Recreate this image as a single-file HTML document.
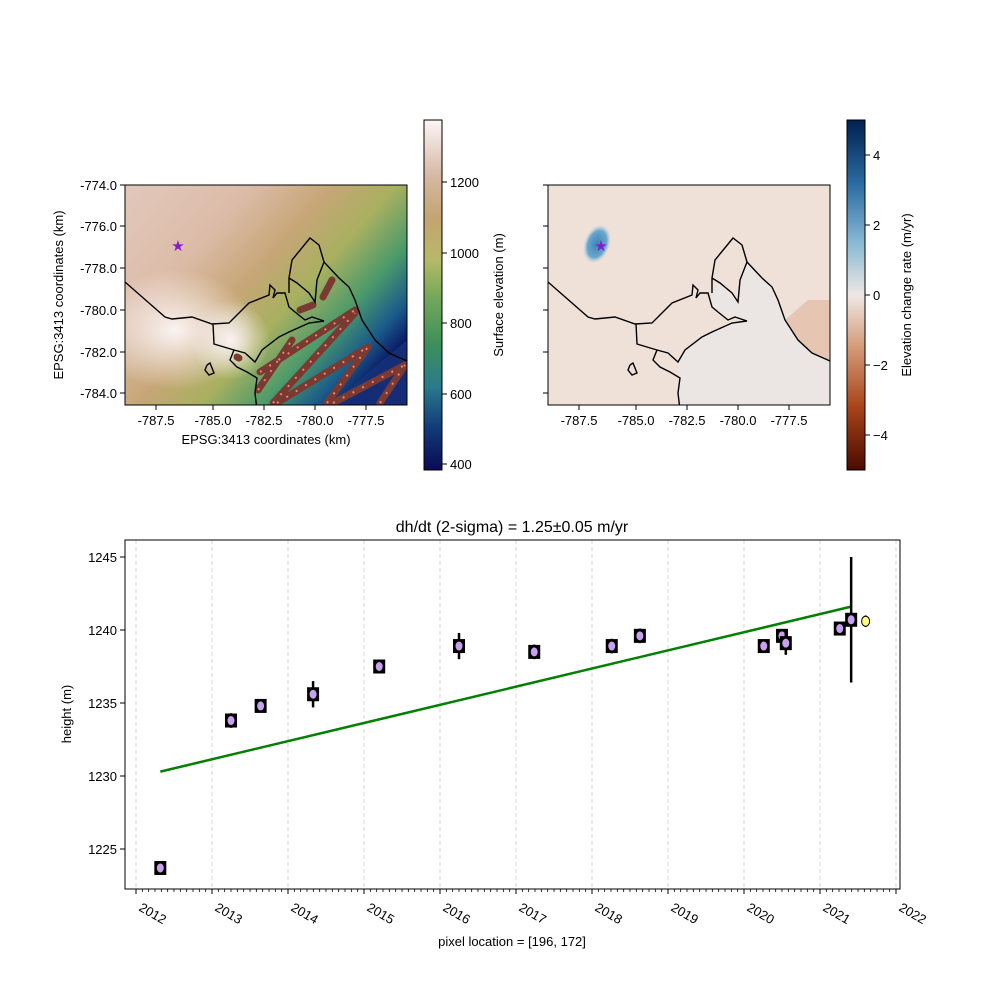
<!DOCTYPE html>
<html><head><meta charset="utf-8"><style>
body{margin:0;background:#fff}
svg text{font-family:"Liberation Sans","DejaVu Sans",sans-serif;font-size:13px;fill:#000}
</style></head><body>
<svg id="fig" width="1000" height="1000" viewBox="0 0 1000 1000">
<defs>
<linearGradient id="cb1" x1="0" y1="1" x2="0" y2="0">
<stop offset="0" stop-color="#0a0a55"/><stop offset="0.12" stop-color="#123a7a"/><stop offset="0.24" stop-color="#2a7b8c"/><stop offset="0.36" stop-color="#3e8f5a"/><stop offset="0.5" stop-color="#78a95a"/><stop offset="0.6" stop-color="#b8b86a"/><stop offset="0.72" stop-color="#c4a470"/><stop offset="0.84" stop-color="#d6b8a4"/><stop offset="1" stop-color="#fbf6f6"/></linearGradient>
<linearGradient id="cb2" x1="0" y1="1" x2="0" y2="0">
<stop offset="0" stop-color="#4a0a00"/><stop offset="0.18" stop-color="#a8441a"/><stop offset="0.35" stop-color="#d49a78"/><stop offset="0.5" stop-color="#efe8e4"/><stop offset="0.65" stop-color="#88b8d4"/><stop offset="0.82" stop-color="#2a6aa0"/><stop offset="1" stop-color="#002050"/></linearGradient>
<linearGradient id="map1" x1="0" y1="0" x2="1" y2="0.7">
<stop offset="0" stop-color="#e2c8bc"/><stop offset="0.3" stop-color="#dcbca8"/><stop offset="0.5" stop-color="#c6a676"/><stop offset="0.65" stop-color="#a8b060"/><stop offset="0.8" stop-color="#4a9a6a"/><stop offset="0.92" stop-color="#1a5a8a"/><stop offset="1" stop-color="#0a1a66"/></linearGradient>
<radialGradient id="wh" cx="0.5" cy="0.5" r="0.5"><stop offset="0" stop-color="#fbf3f3" stop-opacity="1"/><stop offset="1" stop-color="#fbf3f3" stop-opacity="0"/></radialGradient>
<radialGradient id="bl" cx="0.5" cy="0.5" r="0.5"><stop offset="0" stop-color="#3a86b8"/><stop offset="0.7" stop-color="#6aa6cc"/><stop offset="1" stop-color="#b8d4e4" stop-opacity="0"/></radialGradient>
<clipPath id="c1"><rect x="125" y="185" width="282" height="220"/></clipPath>
<clipPath id="c2"><rect x="548" y="185" width="282" height="220"/></clipPath>
</defs>

<!-- left map -->
<g clip-path="url(#c1)">
<rect x="125" y="185" width="282" height="220" fill="url(#map1)"/>
<ellipse cx="175" cy="330" rx="80" ry="60" fill="url(#wh)"/>
<ellipse cx="230" cy="340" rx="40" ry="40" fill="url(#wh)"/>
<polygon points="330,405 407,340 407,405" fill="#1a3a80" opacity="0.6"/>
<g id="tracks" stroke="#7a3a32" stroke-width="7" stroke-linecap="round">
<line x1="258" y1="390" x2="292" y2="340"/><line x1="260" y1="372" x2="355" y2="310"/>
<line x1="273" y1="403" x2="355" y2="313"/><line x1="277" y1="403" x2="368" y2="347"/>
<line x1="327" y1="403" x2="368" y2="347"/><line x1="333" y1="403" x2="405" y2="365"/>
<line x1="380" y1="403" x2="405" y2="365"/><line x1="323" y1="297" x2="332" y2="280"/>
<line x1="300" y1="310" x2="313" y2="305"/><line x1="237" y1="357" x2="239" y2="358"/>
</g>
<g stroke="#f08070" stroke-width="2" stroke-dasharray="2 9" fill="none">
<line x1="258" y1="390" x2="292" y2="340"/><line x1="260" y1="372" x2="355" y2="310"/>
<line x1="273" y1="403" x2="355" y2="313"/><line x1="277" y1="403" x2="368" y2="347"/>
<line x1="327" y1="403" x2="368" y2="347"/><line x1="333" y1="403" x2="405" y2="365"/>
<line x1="380" y1="403" x2="405" y2="365"/>
</g>
<g id="coast1" transform="translate(125,0)"></g>
</g>
<rect x="125" y="185" width="282" height="220" fill="none" stroke="#000"/>
<text x="178" y="251" text-anchor="middle" style="font-size:15px;fill:#8a1ad0">★</text>

<!-- right map -->
<g clip-path="url(#c2)">
<rect x="548" y="185" width="282" height="220" fill="#efe0d8"/>
<g transform="translate(548,0)">
<polygon points="164,307 170,312 180,320 187,317 199,321 184,323 164,332 154,337 137,350 130,362 132,378 130,405 282,405 282,361 264,353 250,340 237,320 230,300 224,287 214,278 199,262 192,280 190,302 184,293 172,283 164,293" fill="#ebe6e4"/>
<polygon points="237,320 250,340 264,353 282,361 282,300 260,300" fill="#e6c6b2"/>
</g>
<ellipse cx="597" cy="244" rx="13" ry="20" transform="rotate(20 597 244)" fill="url(#bl)"/>
<g id="coast2" transform="translate(548,0)"></g>
</g>
<rect x="548" y="185" width="282" height="220" fill="none" stroke="#000"/>
<text x="601" y="251" text-anchor="middle" style="font-size:15px;fill:#8a1ad0">★</text>

<!-- colorbars -->
<rect x="424" y="120" width="18" height="350" fill="url(#cb1)" stroke="#000"/>
<rect x="847" y="120" width="18" height="350" fill="url(#cb2)" stroke="#000"/>
<g id="cbticks"></g>
<text transform="translate(503,295) rotate(-90)" text-anchor="middle">Surface elevation (m)</text>
<text transform="translate(911,295) rotate(-90)" text-anchor="middle">Elevation change rate (m/yr)</text>
<text x="266" y="444" text-anchor="middle">EPSG:3413 coordinates (km)</text>
<text transform="translate(63,295) rotate(-90)" text-anchor="middle">EPSG:3413 coordinates (km)</text>
<g id="mapticks"></g>

<!-- bottom chart -->
<text x="512" y="532" text-anchor="middle" style="font-size:16px">dh/dt (2-sigma) = 1.25±0.05 m/yr</text>
<g id="chart"></g>
<rect x="125" y="540" width="775" height="349" fill="none" stroke="#000"/>
<text transform="translate(71,714) rotate(-90)" text-anchor="middle">height (m)</text>
<text x="512" y="946" text-anchor="middle">pixel location = [196, 172]</text>
</svg>
<script>
const years=[2012.32,2013.25,2013.64,2014.33,2015.2,2016.25,2017.24,2018.26,2018.63,2020.26,2020.5,2020.55,2021.26,2021.41];
const heights=[1223.7,1233.8,1234.8,1235.6,1237.5,1238.9,1238.5,1238.9,1239.6,1238.9,1239.6,1239.1,1240.1,1240.7];
const errors=[0.3,0.5,0.4,0.9,0.4,0.9,0.5,0.5,0.5,0.3,0.4,0.8,0.4,4.3];
const extraYear=[2021.6];const extraHeight=[1240.6];const extraErr=[0.4];
const fitYears=[2012.32,2021.41];const fitHeights=[1230.3,1241.6];
const yTicks=[1225,1230,1235,1240,1245];
const xTicks=[2012,2013,2014,2015,2016,2017,2018,2019,2020,2021,2022];
const NS='http://www.w3.org/2000/svg';
function X(v){return 136+(v-2012)*76;}
function Y(v){return 849-(v-1225)*14.6;}
function mk(t,a,p){const e=document.createElementNS(NS,t);for(const k in a)e.setAttribute(k,a[k]);(p||document.getElementById('chart')).appendChild(e);return e;}
xTicks.forEach(t=>{
 const g=mk('line',{x1:X(t),x2:X(t),y1:540,y2:889,stroke:'#ccc','stroke-dasharray':'4 3','stroke-width':0.8});
 
 
 mk('line',{x1:X(t),x2:X(t),y1:889,y2:894,stroke:'#000'});
 const tx=mk('text',{x:X(t)+2,y:910,transform:`rotate(30 ${X(t)+2} 910)`,'font-size':'14'});tx.textContent=t;
 
 
 if(t<2022)for(let m=1;m<12;m++)mk('line',{x1:X(t+m/12),x2:X(t+m/12),y1:889,y2:892,stroke:'#000','stroke-width':0.8});
});
yTicks.forEach(t=>{
 mk('line',{x1:120,x2:125,y1:Y(t),y2:Y(t),stroke:'#000'});
 const tx=mk('text',{x:117,y:Y(t)+5,'text-anchor':'end'});tx.textContent=t;
 
 
});
const fl=mk('line',{x1:X(fitYears[0]),y1:Y(fitHeights[0]),x2:X(fitYears[1]),y2:Y(fitHeights[1]),stroke:'#008000','stroke-width':2.5});


years.forEach((yr,i)=>{
 const g=mk('g',{});
 
 
 mk('line',{x1:X(yr),x2:X(yr),y1:Y(heights[i]+errors[i]),y2:Y(heights[i]-errors[i]),stroke:'#000','stroke-width':2.5},g);
 mk('rect',{x:X(yr)-6,y:Y(heights[i])-7,width:12,height:14,fill:'#000'},g);
 mk('ellipse',{cx:X(yr),cy:Y(heights[i]),rx:3.5,ry:4.5,fill:'#c9a0f0'},g);
});
extraYear.forEach((yr,i)=>{
 const g=mk('g',{});
 
 
 mk('line',{x1:X(yr),x2:X(yr),y1:Y(extraHeight[i]+extraErr[i]),y2:Y(extraHeight[i]-extraErr[i]),stroke:'#000','stroke-width':2},g);
 mk('ellipse',{cx:X(yr),cy:Y(extraHeight[i]),rx:4,ry:5,fill:'#ffff80',stroke:'#000'},g);
});
const mt=document.getElementById('mapticks');
const mxLab=['-787.5','-785.0','-782.5','-780.0','-777.5'];const mxPos=[31,88,139,190,241];
const myLab=['-774.0','-776.0','-778.0','-780.0','-782.0','-784.0'];const myPos=[185,226,268,310,352,393];
[125,548].forEach((ox,j)=>{
 mxLab.forEach((l,i)=>{mk('line',{x1:ox+mxPos[i],x2:ox+mxPos[i],y1:405,y2:410,stroke:'#000'},mt);
  const t=mk('text',{x:ox+mxPos[i],y:425,'text-anchor':'middle'},mt);t.textContent=l;});
 myLab.forEach((l,i)=>{mk('line',{x1:ox-5,x2:ox,y1:myPos[i],y2:myPos[i],stroke:'#000'},mt);
  if(j==0){const t=mk('text',{x:ox-8,y:myPos[i]+5,'text-anchor':'end'},mt);t.textContent=l;}});
});
const cb=document.getElementById('cbticks');
[[1200,182],[1000,253],[800,323],[600,394],[400,464]].forEach(([v,y])=>{mk('line',{x1:442,x2:447,y1:y,y2:y,stroke:'#000'},cb);const t=mk('text',{x:450,y:y+5},cb);t.textContent=v;});
[[4,155],[2,225],[0,295],[-2,365],[-4,435]].forEach(([v,y])=>{mk('line',{x1:865,x2:870,y1:y,y2:y,stroke:'#000'},cb);const t=mk('text',{x:873,y:y+5},cb);t.textContent=(v<0?'\u2212'+(-v):v);});
const coast=['0,282 40,317 47,319 67,317 87,324 104,323 124,303 144,295 145,285 150,290 148,298 152,293 160,293 164,307 170,312 180,320 187,317 199,321 184,323 164,332 154,337 137,350 130,362 120,353 109,350 89,344 88,324',
'164,293 164,278 167,260 185,238 194,245 199,262 192,280 190,302 184,293 172,283 164,278',
'199,262 214,278 224,287 230,300 237,320 250,340 264,353 282,361',
'109,350 105,360 112,367 122,372 132,378 130,393 132,410',
'82,365 85,363 89,373 84,375 80,370 82,365'];
['coast1','coast2'].forEach(id=>{const g=document.getElementById(id);coast.forEach(p=>mk('polyline',{points:p,fill:'none',stroke:'#000','stroke-width':1.4},g));});
</script>
</body></html>
